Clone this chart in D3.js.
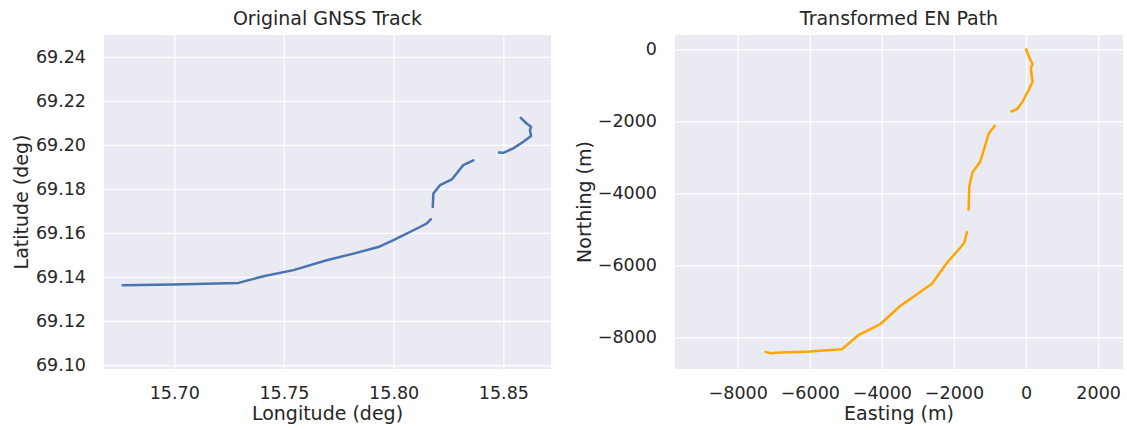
<!DOCTYPE html>
<html>
<head>
<meta charset="utf-8">
<script src="https://cdn.jsdelivr.net/npm/d3@7"></script>
<style>
  html, body { margin: 0; padding: 0; background: #ffffff; }
  svg text { font-family: "DejaVu Sans", sans-serif; fill: #262626; }
</style>
</head>
<body>
<svg id="chart" width="1127" height="430"></svg>
<script>
// GNSS track (degrees); null marks a gap between recorded segments
const lon = [
  15.8579, 15.8606, 15.8626, 15.8621, 15.8626, 15.8591, 15.8545, 15.8500, 15.8480,
  null,
  15.8363, 15.8317, 15.8265, 15.8211, 15.8181, 15.8178,
  null,
  15.8169, 15.8151, 15.8120, 15.7999, 15.7930, 15.7817, 15.7695, 15.7543, 15.7407,
  15.7293, 15.6997, 15.6765
];
const lat = [
  69.2123, 69.2097, 69.2082, 69.2067, 69.2040, 69.2014, 69.1984, 69.1964, 69.1965,
  null,
  69.1930, 69.1908, 69.1843, 69.1817, 69.1779, 69.1718,
  null,
  69.1662, 69.1643, 69.1627, 69.1567, 69.1536, 69.1506, 69.1476, 69.1431, 69.1403,
  69.1373, 69.1366, 69.1362
];

// Local East/North path (metres) relative to the first fix
const easting = [
  0, 120, 184, 139, 147, 184, 28, -111, -250, -408,
  null,
  -870, -1036, -1269, -1485, -1575, -1594,
  null,
  -1640, -1714, -1825, -2194, -2611, -3028, -3492, -4047, -4233, -4650, -5111,
  -5992, -6825, -7103, -7222
];
const northing = [
  0, -296, -415, -499, -665, -897, -1219, -1479, -1662, -1728,
  null,
  -2125, -2346, -3114, -3418, -3806, -4452,
  null,
  -5080, -5374, -5512, -5928, -6510, -6806, -7130, -7637, -7729, -7942, -8330,
  -8393, -8421, -8440, -8404
];

const lonTicks = [15.70, 15.75, 15.80, 15.85];
const latTicks = [69.10, 69.12, 69.14, 69.16, 69.18, 69.20, 69.22, 69.24];
const eastTicks = [-8000, -6000, -4000, -2000, 0, 2000];
const northTicks = [0, -2000, -4000, -6000, -8000];

const svg = d3.select("#chart");
const BG = "#eaeaf2";
const TICK_FONT = "17.5px";
const LABEL_FONT = "19px";

function panel(opts) {
  const g = svg.append("g");
  const { x0, x1, y0, y1 } = opts.box;
  const x = d3.scaleLinear().domain(opts.xDomain).range([x0, x1]);
  const y = d3.scaleLinear().domain(opts.yDomain).range([y1, y0]);

  g.append("rect").attr("x", x0).attr("y", y0)
    .attr("width", x1 - x0).attr("height", y1 - y0).attr("fill", BG);

  // white grid drawn from the axis ticks
  const xAxis = d3.axisBottom(x).tickValues(opts.xTicks).tickFormat(opts.xFmt)
    .tickSize(-(y1 - y0)).tickPadding(13);
  const yAxis = d3.axisLeft(y).tickValues(opts.yTicks).tickFormat(opts.yFmt)
    .tickSize(-(x1 - x0)).tickPadding(18);

  const gx = g.append("g").attr("transform", `translate(0,${y1})`).call(xAxis);
  const gy = g.append("g").attr("transform", `translate(${x0},0)`).call(yAxis);
  [gx, gy].forEach(a => {
    a.select(".domain").remove();
    a.selectAll(".tick line").attr("stroke", "#ffffff").attr("stroke-width", 1.3);
    a.selectAll(".tick text").style("font-size", TICK_FONT).attr("fill", "#262626");
  });
  gx.selectAll(".tick text").attr("dy", "0.95em");

  const line = d3.line()
    .defined((d, i) => opts.xs[i] != null && opts.ys[i] != null)
    .x((d, i) => x(opts.xs[i]))
    .y((d, i) => y(opts.ys[i]));

  g.append("path").datum(opts.xs)
    .attr("d", line)
    .attr("fill", "none")
    .attr("stroke", opts.color)
    .attr("stroke-width", 2.5)
    .attr("stroke-linejoin", "round")
    .attr("stroke-linecap", "round");

  const cx = (x0 + x1) / 2;
  g.append("text").attr("x", cx).attr("y", 25).attr("text-anchor", "middle")
    .style("font-size", LABEL_FONT).text(opts.title);
  g.append("text").attr("x", cx).attr("y", 420).attr("text-anchor", "middle")
    .style("font-size", LABEL_FONT).text(opts.xLabel);
  g.append("text")
    .attr("transform", `translate(${opts.yLabelX},${(y0 + y1) / 2}) rotate(-90)`)
    .attr("text-anchor", "middle")
    .style("font-size", LABEL_FONT).text(opts.yLabel);
}

panel({
  box: { x0: 104, x1: 551, y0: 35, y1: 369 },
  xDomain: [15.668, 15.8717],
  yDomain: [69.0982, 69.2499],
  xTicks: lonTicks, yTicks: latTicks,
  xFmt: d3.format(".2f"), yFmt: d3.format(".2f"),
  xs: lon, ys: lat,
  color: "#4c72b0",
  title: "Original GNSS Track",
  xLabel: "Longitude (deg)",
  yLabel: "Latitude (deg)",
  yLabelX: 28
});

panel({
  box: { x0: 675, x1: 1123, y0: 35, y1: 369 },
  xDomain: [-9740, 2690],
  yDomain: [-8880, 397],
  xTicks: eastTicks, yTicks: northTicks,
  xFmt: d => d < 0 ? "\u2212" + Math.abs(d) : String(d),
  yFmt: d => d < 0 ? "\u2212" + Math.abs(d) : String(d),
  xs: easting, ys: northing,
  color: "orange",
  title: "Transformed EN Path",
  xLabel: "Easting (m)",
  yLabel: "Northing (m)",
  yLabelX: 591
});
</script>
</body>
</html>
